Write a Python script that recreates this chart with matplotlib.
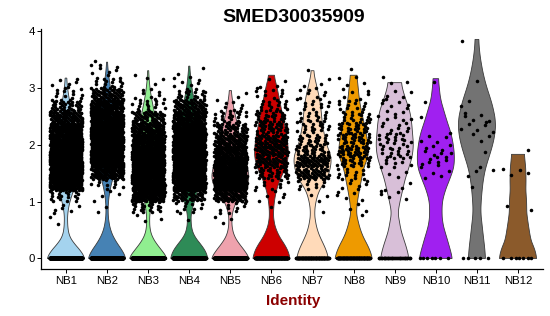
import numpy as np
import matplotlib
matplotlib.use("Agg")
import matplotlib.pyplot as plt

plt.rcParams['font.family'] = ['Liberation Sans', 'DejaVu Sans']

clusters = ['NB1', 'NB2', 'NB3', 'NB4', 'NB5', 'NB6',
            'NB7', 'NB8', 'NB9', 'NB10', 'NB11', 'NB12']
colors = ['#A4D3EE', '#4682B4', '#90EE90', '#2E8B57', '#EEA2AD', '#CD0000',
          '#FFDAB9', '#EE9A00', '#D8BFD8', '#A020F0', '#737373', '#8B5A2B']

# violin outline: relative width at each expression level
levels = [0, 0.1, 0.2, 0.3, 0.4, 0.5, 0.65, 0.8, 1.0, 1.2, 1.4, 1.6,
          1.8, 2.0, 2.2, 2.4, 2.6, 2.8, 3.0, 3.2, 3.4, 3.6, 3.8, 4.0]
nb1_width = [1.0, .85, .6, .33, .17, .11, .08, .09, .2, .4, .55, .6, .58, .52, .45, .38, .28, .17, .08, .03, 0, 0, 0, 0]
nb2_width = [1.0, .88, .67, .46, .3, .18, .09, .05, .07, .15, .3, .45, .52, .55, .52, .45, .36, .25, .18, .09, .03, 0, 0, 0]
nb3_width = [1.0, .8, .56, .34, .18, .1, .07, .09, .18, .35, .5, .55, .55, .52, .47, .4, .3, .18, .09, .04, .01, 0, 0, 0]
nb4_width = [1.0, .9, .74, .47, .25, .14, .09, .1, .27, .45, .6, .65, .68, .66, .6, .5, .38, .25, .14, .07, .02, 0, 0, 0]
nb5_width = [1.0, .82, .6, .36, .2, .11, .07, .1, .3, .75, .98, .9, .72, .56, .44, .34, .2, .1, .03, 0, 0, 0, 0, 0]
nb6_width = [1.0, .9, .8, .57, .4, .25, .13, .1, .15, .26, .47, .76, .9, .87, .78, .66, .54, .42, .3, .15, .1, 0, 0, 0]
nb7_width = [.84, .76, .65, .5, .36, .25, .15, .1, .17, .35, .75, .95, .98, .73, .6, .5, .45, .37, .24, .1, .03, 0, 0, 0]
nb8_width = [1.0, .9, .8, .62, .48, .36, .24, .14, .2, .3, .42, .54, .78, .77, .66, .54, .4, .3, .24, .18, .1, 0, 0, 0]
nb9_width = [.76, .7, .62, .52, .42, .33, .25, .17, .28, .42, .56, .76, .94, 1.0, .95, .9, .8, .58, .4, .3, 0, 0, 0, 0]
nb10_width = [.87, .8, .72, .63, .55, .45, .35, .32, .34, .5, .74, .95, .98, .92, .8, .6, .42, .25, .18, .13, 0, 0, 0, 0]
nb11_width = [.45, .43, .4, .37, .33, .3, .25, .2, .22, .27, .34, .46, .65, .83, .95, .98, .88, .72, .52, .36, .24, .15, .1, .08]
nb12_width = [1.0, .95, .85, .72, .65, .6, .53, .47, .46, .42, .43, .41, .35, .3, 0, 0, 0, 0, 0, 0, 0, 0, 0, 0]
violin_top = [3.17, 3.45, 3.3, 3.38, 2.95, 3.22, 3.3, 3.22, 3.09, 3.16, 3.85, 1.83]

# cells per expression bin (non-zero cells), and cells with zero expression
bin_edges = [0.6, 0.8, 1.0, 1.2, 1.4, 1.6, 1.8, 2.0, 2.2, 2.4,
             2.6, 2.8, 3.0, 3.2, 3.4, 3.6, 3.8, 4.0]
nb1_counts = [2, 6, 20, 130, 180, 180, 160, 140, 110, 75, 35, 12, 6, 0, 0, 0, 0]
nb2_counts = [0, 2, 4, 12, 85, 150, 170, 170, 160, 130, 95, 50, 15, 8, 1, 0, 0]
nb3_counts = [3, 22, 105, 160, 165, 160, 140, 120, 85, 45, 16, 7, 3, 1, 0, 0, 0]
nb4_counts = [2, 10, 45, 140, 165, 175, 165, 145, 120, 90, 50, 20, 7, 2, 0, 0, 0]
nb5_counts = [3, 10, 65, 180, 175, 125, 90, 65, 40, 20, 7, 2, 0, 0, 0, 0, 0]
nb6_counts = [0, 2, 5, 10, 30, 45, 50, 45, 35, 25, 16, 10, 4, 0, 0, 0, 0]
nb7_counts = [0, 1, 3, 12, 45, 55, 30, 22, 18, 15, 12, 8, 3, 1, 0, 0, 0]
nb8_counts = [1, 3, 5, 8, 12, 25, 35, 30, 25, 18, 12, 6, 4, 1, 0, 0, 0]
nb9_counts = [0, 0, 5, 3, 4, 10, 14, 16, 10, 8, 6, 5, 3, 0, 0, 0, 0]
nb10_counts = [0, 0, 0, 0, 4, 9, 8, 4, 1, 1, 1, 0, 1, 0, 0, 0, 0]
nb11_counts = [0, 0, 0, 1, 3, 1, 1, 3, 6, 5, 2, 0, 1, 0, 0, 0, 1]
nb12_counts = [0, 2, 0, 0, 4, 0, 1, 0, 0, 0, 0, 0, 0, 0, 0, 0, 0]
zero_counts = [500, 400, 450, 450, 400, 200, 120, 120, 40, 7, 5, 7]

widths = [nb1_width, nb2_width, nb3_width, nb4_width, nb5_width, nb6_width,
          nb7_width, nb8_width, nb9_width, nb10_width, nb11_width, nb12_width]
counts = [nb1_counts, nb2_counts, nb3_counts, nb4_counts, nb5_counts, nb6_counts,
          nb7_counts, nb8_counts, nb9_counts, nb10_counts, nb11_counts, nb12_counts]


def violin_outline(w, top):
    ys = np.linspace(0, top, 300)
    hw = np.interp(ys, levels, w)
    k = 9
    hw = np.convolve(np.pad(hw, k, mode='edge'), np.ones(2 * k + 1) / (2 * k + 1), mode='valid')
    hw = hw / hw.max() * 0.45
    return ys, hw


fig = plt.figure(figsize=(5.5, 3.16), dpi=100)
ax = fig.add_axes([0.0751, 0.1478, 0.9116, 0.7617])

# violins first
for i, name in enumerate(clusters):
    c = i + 1
    ys, hw = violin_outline(widths[i], violin_top[i])
    xs = np.concatenate([c - hw, (c + hw)[::-1]])
    yy = np.concatenate([ys, ys[::-1]])
    ax.fill(xs, yy, facecolor=colors[i], edgecolor='#3a3a3a', linewidth=0.6, zorder=2)

# jittered cells on top (deterministic low-discrepancy jitter)
px, py = [], []
for i in range(len(clusters)):
    c = i + 1
    for k in range(zero_counts[i]):
        u = (0.5 + k * 0.6180339887 + 0.21 * i) % 1
        px.append(c + (2 * u - 1) * 0.4)
        py.append(0.0)
    for b, n in enumerate(counts[i]):
        lo = bin_edges[b]
        hi = bin_edges[b + 1]
        for k in range(n):
            u = (0.5 + (k + 1) * 0.7548776662 + 0.13 * b + 0.07 * i) % 1
            v = (0.5 + (k + 1) * 0.5698402910 + 0.37 * b + 0.11 * i) % 1
            px.append(c + (2 * u - 1) * 0.4)
            py.append(lo + v * (hi - lo))
ax.scatter(px, py, s=6.5, c='black', linewidths=0, zorder=3)

ax.set_xlim(0.4, 12.6)
ax.set_ylim(-0.19, 4.04)
ax.set_xticks(range(1, len(clusters) + 1))
ax.set_xticklabels(clusters)
ax.set_yticks([0, 1, 2, 3, 4])
for side in ['top', 'right']:
    ax.spines[side].set_visible(False)
for side in ['left', 'bottom']:
    ax.spines[side].set_linewidth(0.9)
ax.tick_params(axis='both', direction='out', length=2.6, width=0.7,
               labelsize=8.2, pad=2, colors='black')

fig.text(0.5331, 1 - 22 / 316, 'SMED30035909', ha='center', va='baseline',
         fontsize=14, fontweight='bold')
fig.text(0.5331, 1 - 305 / 316, 'Identity', ha='center', va='baseline',
         fontsize=11, fontweight='bold', color='#8B0000')

fig.savefig('out.png', dpi=100)
